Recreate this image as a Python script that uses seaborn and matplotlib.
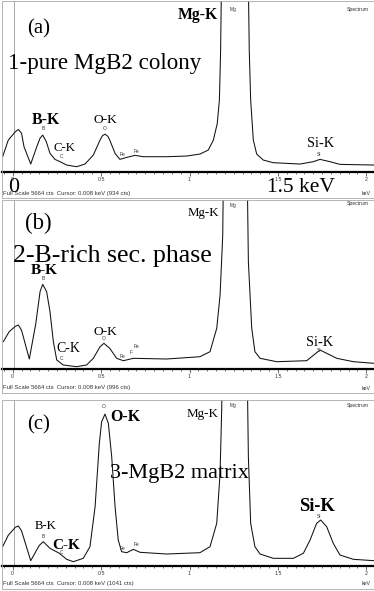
import numpy as np
import pandas as pd
import matplotlib
matplotlib.use("Agg")
import matplotlib.pyplot as plt
import seaborn as sns
from matplotlib.patches import Rectangle
from matplotlib.ticker import MultipleLocator

# ---- spectra: energy (keV) and counts ----
energy_a = [-0.057, -0.025, 0.015, 0.032, 0.050, 0.064, 0.102, 0.136, 0.155, 0.170, 0.190,
            0.211, 0.239, 0.268, 0.305, 0.362, 0.409, 0.456, 0.494, 0.508, 0.522, 0.538,
            0.549, 0.579, 0.606, 0.645, 0.692, 0.739, 0.871, 0.984, 1.059, 1.106, 1.135,
            1.157, 1.169, 1.176, 1.253, 1.338, 1.346, 1.361, 1.380, 1.417, 1.474, 1.625,
            1.700, 1.738, 1.795, 1.851, 2.044]
counts_a = [505, 1054, 1330, 1405, 1280, 833, 263, 833, 1120, 1218, 1000,
            615, 417, 340, 230, 175, 263, 560, 1054, 1200, 1251, 1180,
            1054, 615, 417, 483, 549, 505, 505, 527, 593, 724, 1054,
            1603, 2371, 4018, 40000, 4018, 2371, 1054, 593, 395, 307, 263,
            340, 417, 340, 252, 230]

energy_b = [-0.053, -0.020, 0.015, 0.032, 0.050, 0.094, 0.130, 0.155, 0.170, 0.192,
            0.211, 0.230, 0.249, 0.286, 0.362, 0.418, 0.456, 0.494, 0.516, 0.549,
            0.588, 0.626, 0.682, 0.871, 1.059, 1.116, 1.154, 1.173, 1.188, 1.253,
            1.333, 1.352, 1.370, 1.399, 1.493, 1.663, 1.738, 1.776, 1.833, 1.927, 2.044]
counts_b = [915, 1250, 1430, 1474, 1300, 335, 1500, 2600, 2837, 2590,
            1920, 915, 302, 134, 78, 134, 358, 747, 860, 693,
            358, 278, 358, 335, 412, 580, 1363, 2479, 4489, 40000,
            3595, 1363, 580, 358, 245, 278, 637, 526, 358, 245, 190]

energy_c = [-0.057, -0.025, 0.015, 0.032, 0.050, 0.102, 0.150, 0.173, 0.211, 0.264,
            0.305, 0.343, 0.399, 0.437, 0.466, 0.490, 0.503, 0.522, 0.541, 0.560,
            0.579, 0.597, 0.616, 0.645, 0.682, 0.720, 0.871, 1.059, 1.116, 1.154,
            1.173, 1.182, 1.253, 1.333, 1.346, 1.370, 1.399, 1.474, 1.587, 1.644,
            1.682, 1.719, 1.742, 1.776, 1.813, 1.851, 1.927, 2.044]
counts_c = [658, 1050, 1320, 1364, 1200, 181, 700, 829, 603, 433,
            228, 147, 262, 658, 2022, 4184, 4921, 5183, 4866, 3727,
            2022, 887, 488, 454, 569, 467, 409, 454, 658, 1456,
            3161, 5320, 40000, 3727, 1456, 658, 409, 262, 262, 433,
            887, 1456, 1569, 1341, 774, 375, 228, 181]

full_scale = 5664
cursor_kev = 0.008
cursor_counts = [934, 996, 1041]
tick_values = [0, 0.5, 1, 1.5, 2]
tick_labels = ["0", "0.5", "1", "1.5", "2"]

spectra = [(energy_a, counts_a), (energy_b, counts_b), (energy_c, counts_c)]

# ---- figure in pixel units ----
W, H = 374, 591
sns.set_style("white")
plt.rcParams["font.family"] = ["Liberation Serif", "DejaVu Serif"]
SANS = ["Liberation Sans", "DejaVu Sans"]

fig = plt.figure(figsize=(W / 100, H / 100), dpi=100)


def put(x, y, s, size, weight="normal", ha="left", va="center", family=None, color="black"):
    kw = {}
    if family is not None:
        kw["family"] = family
    fig.text(x / W, 1 - y / H, s, fontsize=size, fontweight=weight, ha=ha, va=va,
             color=color, **kw)


# panel boxes: (frame top, axis line, frame bottom)
boxes = [(0.5, 172, 197.5), (200, 369, 393), (400, 566, 588.5)]
footer_y = [193, 388, 583.5]
spectrum_y = [9, 204, 405]

x_left_px, x_right_px = 2, 374
kev0_px, px_per_kev = 12.7, 176.8
xlim = ((x_left_px - kev0_px) / px_per_kev, (x_right_px - kev0_px) / px_per_kev)

for i, ((top, axis_y, bottom), (en, ct)) in enumerate(zip(boxes, spectra)):
    # outer frame of the screenshot panel
    fig.patches.append(Rectangle((1.5 / W, 1 - bottom / H), (W + 5) / W, (bottom - top) / H,
                                 transform=fig.transFigure, fill=False,
                                 edgecolor="#a8a8a8", lw=0.6, zorder=0))
    ax = fig.add_axes([x_left_px / W, 1 - axis_y / H, (x_right_px - x_left_px) / W,
                       (axis_y - top) / H])
    ax.patch.set_alpha(0)
    df = pd.DataFrame({"keV": en, "counts": ct})
    sns.lineplot(data=df, x="keV", y="counts", ax=ax, color="#111111", lw=0.75,
                 estimator=None, sort=False)
    ax.axvline(cursor_kev, color="#9a9a9a", lw=0.6, zorder=0)
    ax.set_xlim(*xlim)
    ax.set_ylim(0, full_scale)
    ax.set_xlabel("")
    ax.set_ylabel("")
    ax.set_yticks([])
    for side in ("top", "left", "right"):
        ax.spines[side].set_visible(False)
    ax.spines["bottom"].set_linewidth(1.6)
    ax.spines["bottom"].set_color("black")
    ax.set_xticks(tick_values)
    ax.set_xticklabels(tick_labels, fontsize=3.8, family=SANS, color="#333333")
    ax.xaxis.set_minor_locator(MultipleLocator(0.05))
    ax.tick_params(axis="x", which="both", bottom=True, direction="out", color="#333333",
                   width=0.5, pad=0.6)
    ax.tick_params(axis="x", which="major", length=3)
    ax.tick_params(axis="x", which="minor", length=1.6)

    put(3, footer_y[i], f"Full Scale {full_scale} cts  Cursor: {cursor_kev:.3f} keV ({cursor_counts[i]} cts)",
        4.3, family=SANS, color="#333333")
    put(362, footer_y[i], "keV", 3.8, family=SANS, color="#333333")
    put(347, spectrum_y[i], "Spectrum", 3.7, family=SANS, color="#333333")

# element markers from the analysis software
markers = [
    ("Mg", 233, 10), ("B", 43, 128), ("C", 61, 157), ("O", 105, 128),
    ("Fe", 123, 154), ("Fe", 137, 151), ("Si", 319, 155),
    ("Mg", 233, 205), ("B", 43, 279), ("C", 61, 359), ("O", 104, 339),
    ("Fe", 123, 357), ("F", 131, 353), ("Fe", 137, 346), ("Si", 319, 350),
    ("Mg", 233, 405), ("O", 104, 406), ("B", 43, 536), ("C", 61, 552),
    ("Fe", 123, 549), ("Fe", 137, 545), ("Si", 319, 516),
]
for s, x, y in markers:
    put(x, y, s, 3.5, ha="center", family=SANS, color="#333333")

# peak annotations (x, baseline y in pixels)
labels = [
    # panel (a)
    ("(a)", 27, 33, 14.9, "normal", "left"),
    ("1-pure MgB2 colony", 8, 69.3, 16.6, "normal", "left"),
    ("Mg-K", 218, 19, 11.3, "bold", "right"),
    ("B-K", 32, 124, 11.3, "bold", "left"),
    ("C-K", 54, 150.7, 9.2, "normal", "left"),
    ("O-K", 93, 123.3, 9.7, "normal", "left"),
    ("Si-K", 307, 146.7, 10.3, "normal", "left"),
    ("0", 8, 191.7, 15.8, "normal", "left"),
    ("1.5 keV", 267, 191.7, 15.5, "normal", "left"),
    # panel (b)
    ("(b)", 25, 229.3, 16.5, "normal", "left"),
    ("2-B-rich sec. phase", 13, 261.7, 18.6, "normal", "left"),
    ("B-K", 31, 274.3, 11.0, "bold", "left"),
    ("C-K", 56, 352.3, 10.0, "normal", "left"),
    ("O-K", 93, 335, 9.7, "normal", "left"),
    ("Mg-K", 219, 215.7, 9.3, "normal", "right"),
    ("Si-K", 306, 345.7, 10.3, "normal", "left"),
    # panel (c)
    ("(c)", 27, 429.3, 14.9, "normal", "left"),
    ("O-K", 110, 420.7, 11.4, "bold", "left"),
    ("Mg-K", 219, 417.3, 9.4, "normal", "right"),
    ("3-MgB2 matrix", 110, 478.3, 16.0, "normal", "left"),
    ("B-K", 35, 529.3, 9.2, "normal", "left"),
    ("C-K", 52, 549.3, 11.0, "bold", "left"),
    ("Si-K", 299, 510.7, 13.3, "bold", "left"),
]
for s, x, y, size, weight, ha in labels:
    put(x, y, s, size, weight=weight, ha=ha, va="baseline")

fig.savefig("out.png", dpi=100)
